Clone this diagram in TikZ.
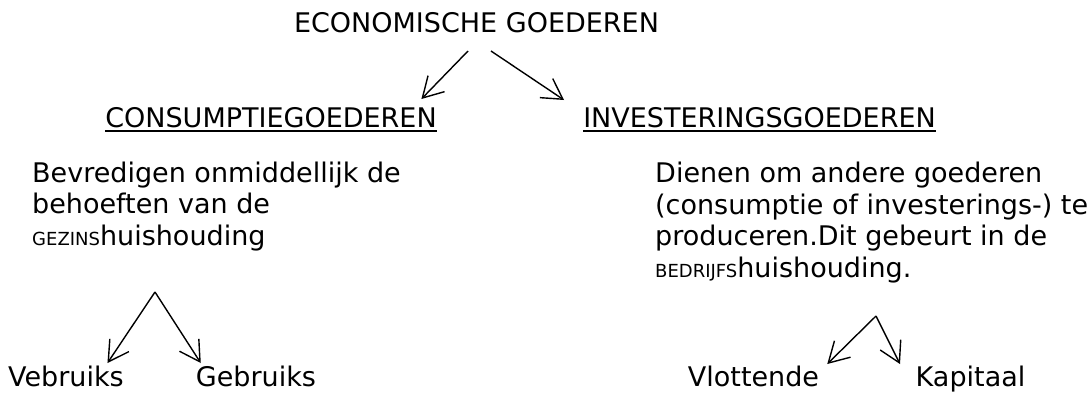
\documentclass[tikz,border=0pt]{standalone}
\usepackage{fontspec}
\setmainfont{DejaVu Sans}
\usetikzlibrary{arrows.meta}

\newcommand{\klein}[1]{{\fontsize{18}{31.5}\selectfont #1}}

\begin{document}
\begin{tikzpicture}[x=1pt,y=-1pt,
    every node/.style={inner sep=0pt, font=\fontsize{27}{31.5}\selectfont},
    kop/.style={anchor=base},
    blok/.style={anchor=base west, align=left},
    pijl/.style={-{Straight Barb[length=20pt,width=23pt]}, line width=1.4pt},
    streep/.style={line width=1.5pt}]
    \useasboundingbox (0,0) rectangle (1091,392);

    \node[kop] (eco) at (476.5,32) {ECONOMISCHE GOEDEREN};
    \node[kop] (cons) at (271,127) {CONSUMPTIEGOEDEREN};
    \node[kop] (inv) at (759.5,127) {INVESTERINGSGOEDEREN};
    \draw[streep] ([yshift=-4pt]cons.base west) -- ([yshift=-4pt]cons.base east); %
    \draw[streep] ([yshift=-4pt]inv.base west) -- ([yshift=-4pt]inv.base east); %

    % base = laatste regel
    \node[blok] (gezin) at (32,245) {Bevredigen onmiddellijk de\\behoeften van de\\\klein{GEZINS}huishouding};
    \node[blok] (bedrijf) at (655,277) {Dienen om andere goederen\\(consumptie of investerings-) te\\produceren.Dit gebeurt in de\\\klein{BEDRIJFS}huishouding.};

    \coordinate (gezin-split) at (155,292);
    \coordinate (bedrijf-split) at (876,316);

    \node[kop] (verb) at (66,386) {Vebruiks};
    \node[kop] (gebr) at (256,386) {Gebruiks};
    \node[kop] (vlot) at (753.5,386) {Vlottende};
    \node[kop] (kap) at (970.5,386) {Kapitaal};

    \draw[pijl] ([xshift=-8.5pt,yshift=-19pt]eco.base) -- ([xshift=-15.5pt,yshift=28pt]cons.base east); %
    \draw[pijl] ([xshift=14.5pt,yshift=-19pt]eco.base) -- ([xshift=-19pt,yshift=27pt]inv.base west); %
    \draw[pijl] (gezin-split) -- ([xshift=-16.5pt,yshift=23pt]verb.base east); %
    \draw[pijl] (gezin-split) -- ([xshift=5pt,yshift=23pt]gebr.base west); %
    \draw[pijl] (bedrijf-split) -- ([xshift=8pt,yshift=22pt]vlot.base east); %
    \draw[pijl] (bedrijf-split) -- ([xshift=-15.5pt,yshift=22pt]kap.base west); %
\end{tikzpicture}
\end{document}
